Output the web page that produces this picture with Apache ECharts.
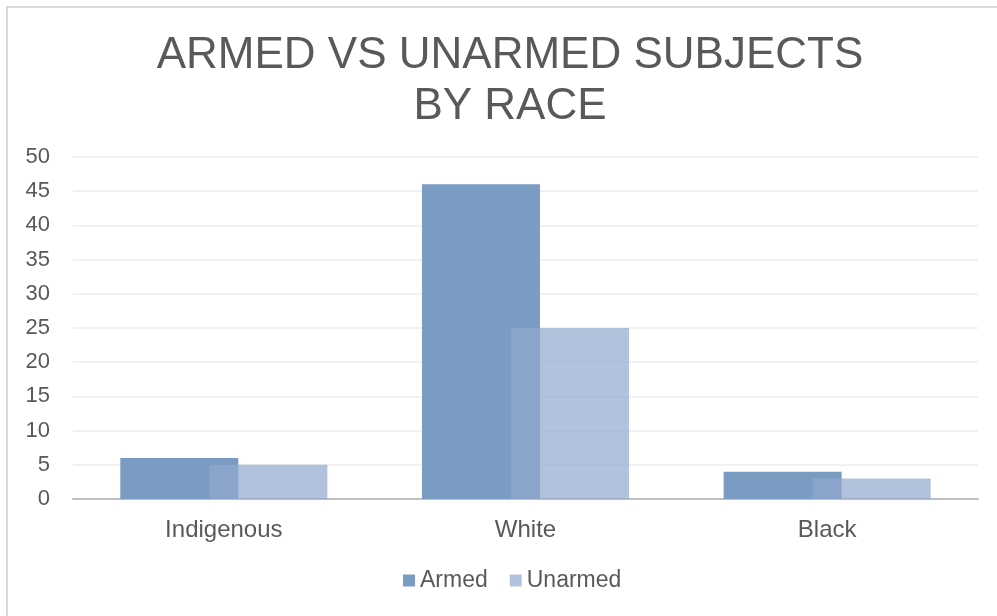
<!DOCTYPE html>
<html>
<head>
<meta charset="utf-8">
<script src="https://cdn.jsdelivr.net/npm/echarts@6/dist/echarts.min.js"></script>
<style>
  html, body { margin: 0; padding: 0; background: #fff; }
  #chart { width: 997px; height: 616px; }
</style>
</head>
<body>
<div id="chart"></div>
<script>
// Subjects by race, split into armed and unarmed
const categories = ['Indigenous', 'White', 'Black'];
const armed = [6, 46, 4];
const unarmed = [5, 25, 3];
const yTicks = { min: 0, max: 50, interval: 5 };

const textColor = '#595959';
const fontFamily = 'Liberation Sans, Arial, sans-serif';

const chart = echarts.init(document.getElementById('chart'));
chart.setOption({
  animation: false,
  backgroundColor: '#ffffff',
  textStyle: { fontFamily: fontFamily, color: textColor },
  graphic: [{
    type: 'rect',
    shape: { x: 7, y: 7, width: 1000, height: 620 },
    style: { fill: 'none', stroke: '#d9d9d9', lineWidth: 2 },
    silent: true,
    z: -1
  }],
  title: {
    text: 'ARMED VS UNARMED SUBJECTS\nBY RACE',
    left: 505,
    textAlign: 'center',
    top: 25,
    textStyle: {
      fontFamily: fontFamily,
      fontSize: 44,
      fontWeight: 'normal',
      color: textColor,
      lineHeight: 51
    }
  },
  legend: {
    top: 564,
    left: 398,
    itemWidth: 12,
    itemHeight: 12,
    itemGap: 22,
    icon: 'rect',
    textStyle: { fontFamily: fontFamily, fontSize: 23, color: textColor },
    data: ['Armed', 'Unarmed']
  },
  grid: { left: 73, right: 19, top: 157, bottom: 117 },
  xAxis: {
    type: 'category',
    data: categories,
    axisLine: { lineStyle: { color: '#bfbfbf', width: 2 } },
    axisTick: { show: false },
    axisLabel: { fontSize: 24, color: textColor, margin: 19, fontFamily: fontFamily }
  },
  yAxis: {
    type: 'value',
    min: yTicks.min,
    max: yTicks.max,
    interval: yTicks.interval,
    axisLine: { show: false },
    axisTick: { show: false },
    axisLabel: { fontSize: 22, color: textColor, margin: 23, fontFamily: fontFamily },
    splitLine: { lineStyle: { color: '#ededed', width: 1.5 } }
  },
  series: [
    {
      name: 'Armed',
      type: 'bar',
      data: armed,
      barWidth: 118,
      barGap: '-24.5%',
      itemStyle: { color: '#7a9cc2' }
    },
    {
      name: 'Unarmed',
      type: 'bar',
      data: unarmed,
      barWidth: 118,
      itemStyle: { color: 'rgba(145,168,207,0.7)' }
    }
  ]
});
</script>
</body>
</html>
